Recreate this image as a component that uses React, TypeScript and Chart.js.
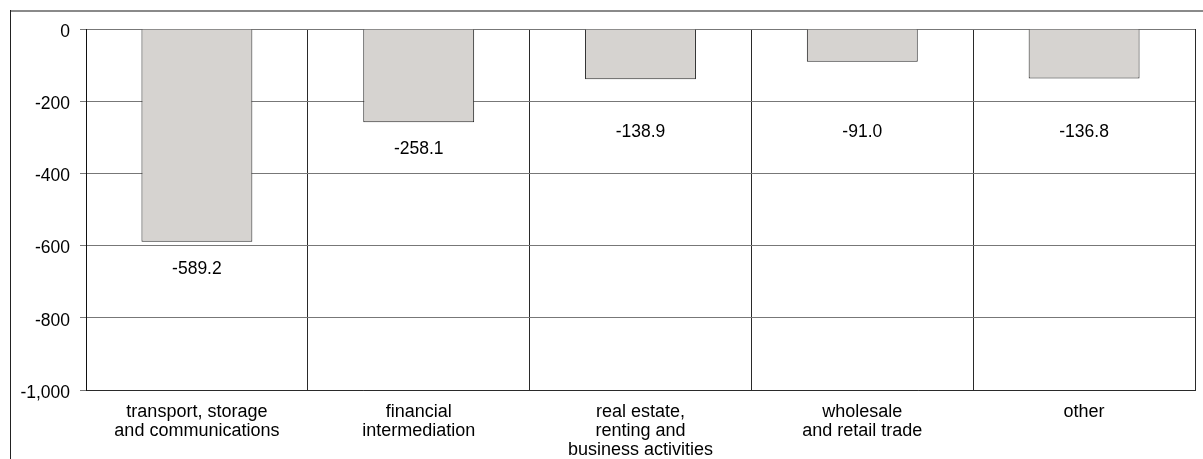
import React, { useEffect, useRef } from "react";
import { Chart, registerables } from "chart.js";

Chart.register(...registerables);

const categories: string[][] = [
  ["transport, storage", "and communications"],
  ["financial", "intermediation"],
  ["real estate,", "renting and", "business activities"],
  ["wholesale", "and retail trade"],
  ["other"],
];
const values: number[] = [-589.2, -258.1, -138.9, -91.0, -136.8];
const yMin = -1000;
const yMax = 0;
const yStep = 200;

const FONT = "'Liberation Sans', Arial, sans-serif";

const framePlugin = {
  id: "frame",
  beforeDraw(chart: any) {
    const ctx = chart.ctx;
    ctx.save();
    ctx.fillStyle = "#ffffff";
    ctx.fillRect(0, 0, chart.width, chart.height);
    ctx.strokeStyle = "#8a8a8a";
    ctx.lineWidth = 2;
    ctx.beginPath();
    ctx.moveTo(10, 11);
    ctx.lineTo(chart.width, 11);
    ctx.stroke();
    ctx.strokeStyle = "#222";
    ctx.lineWidth = 1;
    ctx.beginPath();
    ctx.moveTo(10.5, 10);
    ctx.lineTo(10.5, chart.height);
    ctx.stroke();
    ctx.restore();
  },
};

const valueLabelPlugin = {
  id: "valueLabels",
  afterDatasetsDraw(chart: any) {
    const ctx = chart.ctx;
    const meta = chart.getDatasetMeta(0);
    const yScale = chart.scales.y;
    const minPx = yScale.getPixelForValue(-287);
    ctx.save();
    ctx.font = `17.5px ${FONT}`;
    ctx.fillStyle = "#000";
    ctx.textAlign = "center";
    ctx.textBaseline = "middle";
    meta.data.forEach((bar: any, i: number) => {
      const y = Math.max(bar.y + 27, minPx);
      ctx.fillText(values[i].toFixed(1), bar.x, y);
    });
    ctx.restore();
  },
};

export default function App() {
  const ref = useRef<HTMLCanvasElement | null>(null);

  useEffect(() => {
    if (!ref.current) return;
    const chart = new Chart(ref.current, {
      type: "bar",
      data: {
        labels: categories as any,
        datasets: [
          {
            data: values,
            backgroundColor: "#d6d3d0",
            borderColor: "#222",
            borderWidth: 1,
            categoryPercentage: 1,
            barPercentage: 0.5,
          },
        ],
      },
      options: {
        responsive: false,
        animation: false,
        layout: { padding: { left: 0, top: 29, right: 8, bottom: 0 } },
        plugins: {
          legend: { display: false },
          tooltip: { enabled: false },
        },
        scales: {
          x: {
            grid: {
              color: "#2a2a2a",
              offset: true,
              drawTicks: false,
            },
            border: { color: "#2a2a2a" },
            ticks: {
              color: "#000",
              font: { family: FONT, size: 18, lineHeight: 1.05 },
              padding: 13,
              maxRotation: 0,
              minRotation: 0,
              autoSkip: false,
            },
            afterFit(scale: any) {
              scale.height = 69;
            },
          },
          y: {
            min: yMin,
            max: yMax,
            grid: {
              color: "#777",
              tickLength: 6,
            },
            border: { color: "#111" },
            ticks: {
              stepSize: yStep,
              color: "#000",
              font: { family: FONT, size: 17.5 },
              padding: 10,
              labelOffset: 3,
            },
            afterFit(scale: any) {
              scale.width = 86;
            },
          },
        },
      },
      plugins: [framePlugin, valueLabelPlugin],
    });
    return () => chart.destroy();
  }, []);

  return (
    <div style={{ position: "absolute", left: 0, top: 0, width: 1203, height: 459 }}>
      <canvas ref={ref} width={1203} height={459} style={{ display: "block" }} />
    </div>
  );
}
